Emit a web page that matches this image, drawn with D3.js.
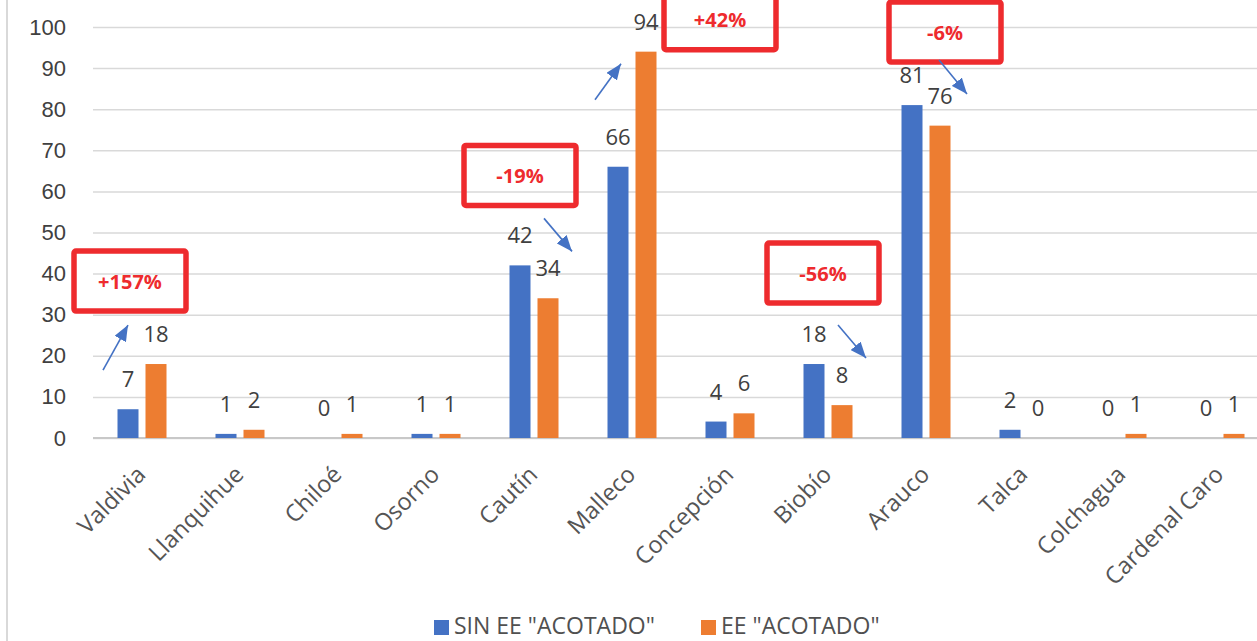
<!DOCTYPE html>
<html>
<head>
<meta charset="utf-8">
<script src="https://cdn.jsdelivr.net/npm/d3@7"></script>
<style>
  body { margin: 0; background: #fff; }
  svg { display: block; font-family: "Open Sans", sans-serif; }
</style>
</head>
<body>
<div id="chart"></div>
<script>
// data
const categories = ["Valdivia", "Llanquihue", "Chiloé", "Osorno", "Cautín", "Malleco",
    "Concepción", "Biobío", "Arauco", "Talca", "Colchagua", "Cardenal Caro"];
const sinAcotado = [7, 1, 0, 1, 42, 66, 4, 18, 81, 2, 0, 0];
const conAcotado = [18, 2, 1, 1, 34, 94, 6, 8, 76, 0, 1, 1];
const seriesNames = ['SIN EE "ACOTADO"', 'EE "ACOTADO"'];
const yTicks = [0, 10, 20, 30, 40, 50, 60, 70, 80, 90, 100];

// change callouts
const calloutCats = ["Valdivia", "Cautín", "Malleco", "Biobío", "Arauco"];
const calloutText = ["+157%", "-19%", "+42%", "-56%", "-6%"];

const width = 1257, height = 641;
const colors = ["#4472c4", "#ed7d31"];

// offsets of each callout from the top of its tallest bar (px)
const calloutLayout = [
    {bx: -12, by: -83, ax1: -39, ay1: 6, ax2: -14, ay2: -39},
    {bx: -14, by: -90, ax1: 10, ay1: -47, ax2: 38, ay2: -14},
    {bx: 88, by: -32, ax1: -37, ay1: 48, ax2: -11, ay2: 12},
    {bx: -5, by: -91, ax1: 10, ay1: -39, ax2: 38, ay2: -6},
    {bx: 19, by: -73, ax1: 13, ay1: -45, ax2: 41, ay2: -11}
];

const rows = categories.map((c, i) => ({cat: c, vals: [sinAcotado[i], conAcotado[i]]}));

const svg = d3.select("#chart").append("svg")
    .attr("width", width)
    .attr("height", height);

let x0 = d3.scaleBand()
    .domain(categories)
    .range([93, 1269])
    .paddingInner(0.5)
    .paddingOuter(0.25);

let x1 = d3.scaleBand()
    .domain([0, 1])
    .range([0, x0.bandwidth()])
    .paddingInner(0.25);

let y = d3.scaleLinear()
    .domain([0, 100])
    .range([438, 27]);

// outer frame line on the left
svg.append("line")
    .attr("x1", 7).attr("x2", 7)
    .attr("y1", 0).attr("y2", height)
    .attr("stroke", "#d9d9d9")
    .attr("stroke-width", 2);

// gridlines + tick labels
let yAxis = svg.append("g")
    .attr("transform", "translate(93,0)")
    .call(d3.axisLeft(y).tickValues(yTicks).tickSize(-(width - 93)).tickPadding(27));
yAxis.select(".domain").remove();
yAxis.selectAll(".tick line")
    .attr("stroke", "#d9d9d9")
    .attr("stroke-width", 1.5);
yAxis.selectAll(".tick text")
    .attr("fill", "#404040")
    .style("font-size", "22px");

// x baseline
svg.append("line")
    .attr("x1", 93).attr("x2", width)
    .attr("y1", y(0)).attr("y2", y(0))
    .attr("stroke", "#c8c8c8")
    .attr("stroke-width", 2);

// bars
let groups = svg.selectAll(".grp")
    .data(rows)
    .enter().append("g")
    .attr("class", "grp")
    .attr("transform", d => `translate(${x0(d.cat)},0)`);

groups.selectAll("rect")
    .data(d => d.vals)
    .enter().append("rect")
    .attr("x", (d, i) => x1(i))
    .attr("y", d => y(d))
    .attr("width", x1.bandwidth())
    .attr("height", d => y(0) - y(d))
    .attr("fill", (d, i) => colors[i]);

groups.selectAll("text")
    .data(d => d.vals)
    .enter().append("text")
    .attr("x", (d, i) => x1(i) + x1.bandwidth() / 2)
    .attr("y", d => y(d) - 22)
    .attr("text-anchor", "middle")
    .attr("fill", "#404040")
    .style("font-size", "22px")
    .text(d => d);

// rotated category labels
svg.selectAll(".catlabel")
    .data(categories)
    .enter().append("text")
    .attr("class", "catlabel")
    .attr("transform", d => `translate(${x0(d) + x0.bandwidth() / 2 + 5},${y(0) + 38}) rotate(-45)`)
    .attr("text-anchor", "end")
    .attr("fill", "#555")
    .style("font-size", "23.5px")
    .text(d => d);

// arrow head
svg.append("defs").append("marker")
    .attr("id", "head")
    .attr("markerUnits", "userSpaceOnUse")
    .attr("viewBox", "0 0 16 13")
    .attr("refX", 16).attr("refY", 6.5)
    .attr("markerWidth", 16).attr("markerHeight", 13)
    .attr("orient", "auto")
    .append("path")
    .attr("d", "M0,0 L16,6.5 L0,13 Z")
    .attr("fill", "#4472c4");

// callouts
calloutCats.forEach((c, i) => {
    let r = rows[categories.indexOf(c)];
    let cx = x0(c) + x0.bandwidth() / 2;
    let top = y(d3.max(r.vals));
    let L = calloutLayout[i];
    let bx = cx + L.bx, by = top + L.by;
    svg.append("rect")
        .attr("x", bx - 56).attr("y", by - 30)
        .attr("width", 112).attr("height", 60)
        .attr("rx", 2)
        .attr("fill", "none")
        .attr("stroke", "#ee2b2e")
        .attr("stroke-width", 5.5);
    svg.append("text")
        .attr("x", bx).attr("y", by + 7.5)
        .attr("text-anchor", "middle")
        .attr("fill", "#ee2b2e")
        .attr("font-weight", 700)
        .style("font-size", "20px")
        .text(calloutText[i]);
    svg.append("line")
        .attr("x1", cx + L.ax1).attr("y1", top + L.ay1)
        .attr("x2", cx + L.ax2).attr("y2", top + L.ay2)
        .attr("stroke", "#4472c4")
        .attr("stroke-width", 1.6)
        .attr("marker-end", "url(#head)");
});

// legend
let legendX = [434, 701];
let legend = svg.selectAll(".leg")
    .data(seriesNames)
    .enter().append("g")
    .attr("class", "leg")
    .attr("transform", (d, i) => `translate(${legendX[i]},620)`);
legend.append("rect")
    .attr("width", 15).attr("height", 15)
    .attr("fill", (d, i) => colors[i]);
legend.append("text")
    .attr("x", 20).attr("y", 14)
    .attr("fill", "#505050")
    .style("font-size", "23px")
    .text(d => d);
</script>
</body>
</html>
